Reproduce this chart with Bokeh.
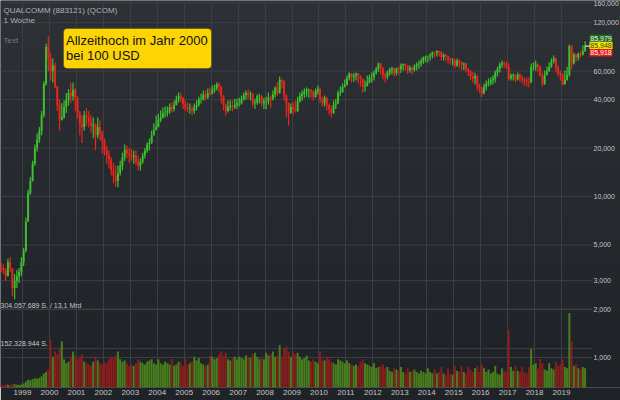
import math
from bokeh.plotting import figure
from bokeh.models import (Range1d, LinearScale, FixedTicker, Label, BoxAnnotation,
                          LogAxis, ColumnDataSource)
from bokeh.embed import file_html
from bokeh.resources import INLINE

# ---------------- data (monthly candles, USD) ----------------
first_year, first_month = 1998, 3          # first candle: March 1998
first_open = 3.7

high = [
    3.9, 3.8, 3.6, 4.1, 4.2, 3.6, 3.3, 3.5, 3.6, 4.2,                       # 1998 Mar-Dec
    4.8, 7.4, 11.0, 13.2, 16.7, 21.0, 24.6, 27.0, 34.0, 52.0, 89.0, 99.0,   # 1999
    78.0, 72.0, 68.0, 49.0, 40.0, 38.0, 39.5, 44.0, 46.5, 51.0, 51.0, 47.0, # 2000
    42.0, 34.0, 32.0, 34.0, 35.3, 34.0, 32.0, 31.0, 28.5, 31.0, 29.7, 25.7, # 2001
    23.0, 20.7, 19.3, 17.5, 16.2, 15.6, 15.6, 16.7, 18.7, 21.0, 20.7, 20.0, # 2002
    19.7, 19.3, 19.3, 18.0, 17.2, 18.7, 20.0, 21.7, 22.9, 25.7, 28.5, 31.9, # 2003
    32.6, 34.2, 35.6, 36.2, 36.2, 37.8, 38.3, 39.5, 42.4, 44.3, 44.3, 41.5, # 2004
    39.5, 38.3, 37.8, 36.8, 37.8, 39.5, 41.6, 43.5, 45.6, 45.6, 46.9, 47.5, # 2005
    48.9, 49.7, 51.2, 51.2, 48.5, 42.5, 37.8, 39.5, 39.5, 39.5, 40.5, 40.5, # 2006
    41.0, 42.4, 44.3, 45.6, 46.3, 45.0, 44.0, 40.5, 43.0, 43.5, 42.5, 41.0, # 2007
    41.6, 44.3, 42.4, 45.6, 48.2, 51.2, 55.6, 54.0, 52.5, 43.0, 38.5, 37.8, # 2008
    38.3, 39.5, 41.6, 44.3, 45.6, 46.9, 47.5, 46.9, 46.3, 45.5, 46.9, 48.9, # 2009
    47.5, 41.6, 42.4, 41.5, 37.8, 36.8, 39.5, 40.5, 45.6, 48.2, 50.3, 53.3, # 2010
    56.5, 59.0, 58.2, 58.2, 59.0, 58.5, 56.5, 54.5, 52.5, 56.5, 57.3, 59.0, # 2011
    60.6, 64.0, 68.0, 67.5, 63.5, 59.0, 60.6, 63.0, 64.0, 63.0, 63.0, 64.0, # 2012
    67.0, 67.0, 67.0, 65.5, 65.0, 64.0, 66.0, 68.0, 70.0, 72.0, 74.0, 75.0, # 2013
    75.0, 77.5, 79.5, 79.5, 80.8, 80.8, 80.0, 77.5, 76.2, 75.0, 73.0, 72.0, # 2014
    72.0, 72.0, 71.0, 69.0, 68.0, 67.5, 63.0, 61.0, 59.5, 58.8, 57.0, 50.3, # 2015
    48.2, 50.3, 52.5, 54.0, 55.0, 56.5, 60.6, 64.0, 68.0, 70.0, 69.0, 69.0, # 2016
    67.0, 58.0, 58.0, 57.3, 59.0, 58.0, 56.5, 54.8, 54.8, 54.8, 67.0, 68.0, # 2017
    70.0, 67.0, 65.0, 59.0, 60.6, 64.0, 68.0, 72.0, 75.0, 73.0, 65.0, 60.6, # 2018
    58.2, 60.6, 64.0, 88.0, 87.0, 78.0, 77.0, 78.0, 80.8, 87.0, 92.0,       # 2019 Jan-Nov
]
low = [
    3.4, 3.3, 3.0, 3.2, 3.4, 2.4, 2.3, 2.7, 2.9, 3.2,
    3.7, 4.5, 7.0, 10.2, 12.4, 15.5, 19.0, 21.5, 24.0, 31.0, 49.0, 60.0,
    52.5, 51.0, 47.0, 34.0, 25.7, 29.7, 30.5, 33.0, 36.8, 38.0, 39.5, 34.0,
    30.5, 24.0, 21.5, 25.7, 27.6, 26.8, 25.0, 23.0, 19.3, 23.0, 22.3, 18.5,
    18.0, 16.0, 14.9, 13.5, 12.1, 11.5, 11.4, 13.5, 14.5, 16.7, 17.2, 16.2,
    16.7, 16.0, 15.6, 14.5, 14.5, 16.0, 17.2, 18.7, 19.3, 21.3, 23.9, 25.7,
    26.8, 28.9, 30.5, 31.0, 31.4, 32.7, 33.2, 33.7, 36.8, 38.3, 38.3, 35.0,
    34.2, 33.2, 32.7, 31.9, 32.7, 34.2, 36.2, 37.8, 39.5, 39.5, 40.5, 42.4,
    43.0, 44.1, 45.6, 44.1, 37.8, 34.2, 31.9, 33.2, 34.2, 33.7, 35.0, 35.0,
    36.2, 37.2, 39.5, 40.0, 40.5, 39.5, 36.2, 35.0, 37.2, 37.8, 36.2, 35.0,
    35.0, 37.2, 35.6, 39.5, 41.2, 42.4, 43.5, 46.9, 39.5, 31.0, 27.6, 32.7,
    32.2, 33.2, 33.5, 38.3, 39.5, 41.0, 41.6, 41.0, 41.0, 39.5, 41.0, 43.0,
    38.3, 36.2, 36.2, 34.2, 32.2, 31.0, 32.5, 35.0, 37.5, 42.0, 44.1, 47.5,
    48.9, 52.5, 51.0, 51.7, 52.5, 50.3, 48.2, 44.1, 44.7, 48.2, 50.3, 51.0,
    52.5, 57.3, 59.5, 57.3, 53.3, 51.0, 53.3, 56.5, 57.3, 55.7, 56.5, 57.3,
    58.8, 60.6, 60.6, 57.8, 58.8, 57.3, 59.8, 60.6, 62.2, 64.0, 66.8, 68.0,
    68.0, 70.0, 72.0, 73.0, 74.0, 74.0, 70.0, 70.0, 69.0, 67.0, 66.0, 65.0,
    63.0, 64.0, 63.0, 61.0, 61.0, 59.0, 56.0, 52.5, 51.0, 49.7, 45.6, 44.0,
    41.3, 43.0, 45.6, 48.2, 48.9, 49.7, 51.0, 55.7, 59.0, 63.0, 63.0, 62.0,
    52.5, 52.5, 52.5, 51.0, 52.5, 51.7, 50.3, 48.9, 48.2, 47.5, 50.5, 60.6,
    60.6, 59.0, 55.7, 48.2, 49.5, 56.5, 59.8, 63.0, 67.0, 59.0, 55.7, 52.5,
    48.9, 49.5, 52.5, 55.5, 62.0, 66.0, 69.0, 70.0, 73.0, 75.0, 79.0,
]
close = [
    3.6, 3.5, 3.2, 3.9, 3.6, 2.7, 3.0, 3.2, 3.4, 3.9,
    4.6, 7.0, 10.5, 12.5, 16.0, 20.0, 22.5, 25.5, 32.0, 50.0, 85.0, 72.0,
    60.0, 65.0, 48.0, 37.0, 30.0, 31.0, 36.0, 40.0, 44.0, 42.0, 46.0, 41.0,
    33.0, 28.0, 27.0, 32.0, 31.0, 29.0, 27.5, 28.0, 24.0, 27.0, 25.0, 22.0,
    19.5, 18.0, 17.0, 14.5, 13.5, 12.5, 14.0, 15.5, 17.5, 19.5, 18.5, 18.0,
    17.5, 18.0, 16.5, 15.5, 16.5, 18.0, 19.3, 21.0, 21.5, 24.0, 26.0, 27.0,
    30.0, 31.0, 33.0, 33.0, 34.0, 36.0, 35.0, 37.0, 40.0, 42.0, 41.0, 37.5,
    36.0, 35.0, 35.0, 34.0, 36.0, 37.0, 40.0, 40.0, 43.0, 41.0, 44.0, 43.5,
    46.0, 47.0, 50.0, 48.0, 42.0, 37.0, 34.0, 36.0, 36.5, 36.0, 37.0, 38.0,
    38.0, 40.0, 42.5, 44.0, 43.0, 43.5, 38.0, 38.5, 42.0, 42.0, 38.0, 39.0,
    39.0, 41.0, 40.5, 43.0, 47.5, 44.0, 53.0, 52.0, 42.5, 38.0, 33.0, 36.0,
    35.0, 34.0, 39.0, 42.0, 43.5, 45.0, 46.0, 46.0, 45.0, 41.5, 45.0, 46.5,
    40.0, 38.0, 41.0, 37.0, 35.0, 33.0, 37.0, 38.0, 44.0, 44.5, 48.0, 49.5,
    54.0, 58.0, 55.0, 56.5, 58.0, 56.0, 54.0, 48.0, 48.5, 51.0, 55.0, 55.0,
    58.5, 62.0, 67.0, 63.0, 57.0, 55.5, 59.0, 61.5, 62.5, 58.5, 62.5, 62.0,
    65.0, 66.5, 65.0, 61.0, 63.0, 61.0, 64.5, 66.0, 67.0, 69.5, 73.5, 74.0,
    74.0, 75.5, 78.5, 78.0, 80.0, 79.0, 73.5, 76.0, 74.5, 72.0, 70.0, 70.0,
    65.0, 70.0, 68.0, 66.0, 67.0, 62.0, 60.0, 56.0, 54.0, 56.0, 48.0, 47.0,
    44.0, 48.0, 50.0, 51.0, 53.0, 54.0, 59.0, 62.0, 66.0, 67.0, 66.0, 64.0,
    54.0, 56.5, 57.0, 53.5, 57.0, 55.0, 53.0, 52.0, 51.5, 51.0, 64.0, 64.0,
    66.0, 64.0, 56.0, 50.0, 57.0, 60.0, 64.0, 69.0, 72.0, 63.0, 58.0, 57.0,
    50.0, 53.0, 57.0, 86.0, 67.0, 76.0, 73.0, 77.0, 76.0, 80.0, 85.948,
]
# typical weekly volume in each month, millions of shares
volume_m = [
    10, 9, 12, 11, 9, 14, 13, 11, 10, 12,
    16, 22, 30, 28, 32, 36, 34, 38, 44, 55, 60, 70,
    185, 120, 140, 130, 150, 180, 110, 95, 100, 120, 140, 125,
    110, 120, 130, 100, 95, 90, 85, 100, 120, 105, 95, 90,
    100, 95, 110, 120, 115, 125, 140, 110, 100, 105, 95, 85,
    90, 85, 95, 110, 100, 95, 90, 100, 105, 110, 95, 90,
    110, 95, 90, 100, 95, 90, 110, 85, 90, 100, 95, 85,
    110, 90, 95, 100, 120, 105, 115, 95, 90, 85, 90, 125,
    120, 110, 115, 130, 140, 125, 135, 110, 105, 115, 120, 110,
    120, 115, 110, 125, 120, 115, 130, 135, 120, 110, 115, 110,
    135, 125, 130, 140, 120, 125, 165, 120, 150, 160, 140, 120,
    140, 130, 135, 120, 110, 115, 125, 105, 100, 110, 100, 95,
    140, 110, 105, 120, 110, 100, 95, 90, 110, 105, 100, 95,
    105, 95, 90, 85, 90, 85, 100, 110, 95, 90, 85, 80,
    95, 75, 80, 85, 90, 75, 80, 65, 60, 75, 70, 65,
    80, 60, 55, 75, 60, 65, 70, 60, 55, 65, 60, 55,
    75, 60, 55, 70, 55, 60, 80, 55, 50, 75, 55, 50,
    85, 65, 60, 85, 60, 55, 80, 70, 60, 75, 85, 60,
    90, 75, 60, 70, 55, 60, 85, 55, 50, 75, 65, 60,
    225, 80, 65, 85, 65, 60, 80, 60, 55, 80, 150, 90,
    95, 75, 110, 95, 70, 65, 95, 75, 70, 100, 85, 90,
    110, 80, 75, 290, 180, 85, 90, 75, 70, 80, 75,
]
assert len(high) == len(low) == len(close) == len(volume_m)

year_ticks = [1999, 2000, 2001, 2002, 2003, 2004, 2005, 2006, 2007, 2008, 2009,
              2010, 2011, 2012, 2013, 2014, 2015, 2016, 2017, 2018, 2019]
year_labels = ["1999", "2000", "2001", "2002", "2003", "2004", "2005", "2006", "2007",
               "2008", "2009", "2010", "2011", "2012", "2013", "2014", "2015", "2016",
               "2017", "2018", "2019"]
price_ticks = [1, 2, 3, 5, 10, 20, 40, 60, 120, 160]
price_tick_labels = ["1,000", "2,000", "3,000", "5,000", "10,000", "20,000", "40,000",
                     "60,000", "120,000", "160,000"]
quote_values = [85.979, 85.948, 85.918]
quote_labels = ["85,979", "85,948", "85,918"]
volume_marks = [304057689, 152328944]
volume_mark_labels = ["304.057.689 S. / 13,1 Mrd", "152.328.944 S."]
title_lines = ["QUALCOMM (883121) (QCOM)", "1 Woche"]
note_lines = ["Allzeithoch im Jahr 2000", "bei 100 USD"]

# ---------------- layout / styling ----------------
FONT = "Liberation Sans"
BORDER = "#1f2226"
GRID = "#3b3f45"
UP = "#3cc12e"
DOWN = "#e8261c"
VOL_UP = "#4c8a1c"
VOL_DOWN = "#921d1d"
GRADIENT_TOP = (45, 48, 53)
GRADIENT_BOTTOM = (31, 34, 38)

W, H = 620, 400
FRAME_W, FRAME_H = 620, 387
PLOT_RIGHT_PX = 590          # right end of the drawing area, price labels beyond
PX_PER_YEAR = 26.95
X0 = 1999 - 22 / PX_PER_YEAR
X1 = X0 + FRAME_W / PX_PER_YEAR
PX_PER_DECADE, Y_TEN = 161.0, 196.0   # pixel row of the 10 USD line


def py_to_v(py):
    return 10 ** (1 + (Y_TEN - py) / PX_PER_DECADE)


def px_to_t(px):
    return X0 + px / PX_PER_YEAR


V_TOP, V_BOT = py_to_v(0), py_to_v(FRAME_H)
VOL_TOP = volume_marks[0] * FRAME_H / 78.0

n = len(close)
t = [first_year + (first_month - 1 + k) / 12 + 1 / 24 for k in range(n)]
opens = [first_open] + close[:-1]
up = [c >= o for o, c in zip(opens, close)]
src = ColumnDataSource(dict(
    t=t, o=opens, h=high, l=low, c=close,
    top=[max(o, c) for o, c in zip(opens, close)],
    bot=[min(o, c) for o, c in zip(opens, close)],
    color=[UP if u else DOWN for u in up],
    vol=[v * 1e6 for v in volume_m],
    vcolor=[VOL_UP if u else VOL_DOWN for u in up],
))

p = figure(width=W, height=H,
           x_range=Range1d(X0, X1), y_range=Range1d(V_BOT, V_TOP),
           y_axis_type="log", y_axis_location=None,
           output_backend="svg", toolbar_location=None,
           min_border_left=0, min_border_top=0, min_border_right=0, min_border_bottom=13,
           background_fill_color=BORDER, border_fill_color=BORDER, outline_line_color=None)
p.extra_y_ranges = {"vol": Range1d(0, VOL_TOP)}
p.extra_y_scales = {"vol": LinearScale()}

# background gradient (bands drawn below everything)
N_BANDS = 16
for i in range(N_BANDS):
    f = i / (N_BANDS - 1)
    rgb = tuple(int(round(a + (b - a) * f)) for a, b in zip(GRADIENT_TOP, GRADIENT_BOTTOM))
    p.add_layout(BoxAnnotation(top=py_to_v(FRAME_H * i / N_BANDS),
                               bottom=py_to_v(FRAME_H * (i + 1) / N_BANDS),
                               fill_color="#%02x%02x%02x" % rgb, fill_alpha=1.0,
                               line_color=None, level="image"))

# x axis (years)
p.xaxis.ticker = FixedTicker(ticks=year_ticks)
p.xaxis.major_label_overrides = dict(zip(year_ticks, year_labels))
p.xgrid.grid_line_color = GRID
p.ygrid.visible = False

# price axis, drawn at the right end of the drawing area
price_axis = LogAxis(ticker=FixedTicker(ticks=price_ticks),
                     major_label_overrides=dict(zip(price_ticks, price_tick_labels)),
                     fixed_location=px_to_t(PLOT_RIGHT_PX))
p.add_layout(price_axis, "right")

for ax, size in ((p.xaxis[0], "8px"), (price_axis, "7px")):
    ax.axis_line_color = None
    ax.major_tick_line_color = None
    ax.minor_tick_line_color = None
    ax.major_tick_out = 0
    ax.major_tick_in = 0
    ax.minor_tick_out = 0
    ax.minor_tick_in = 0
    ax.major_label_text_color = "#c4c7ca"
    ax.major_label_text_font = FONT
    ax.major_label_text_font_size = size
p.xaxis.major_label_standoff = 2
price_axis.major_label_standoff = 3

# horizontal grid lines (price ticks and volume marks), ending at the label column
grid_end = px_to_t(PLOT_RIGHT_PX + 2)
p.segment(x0=X0, x1=grid_end, y0=price_ticks, y1=price_ticks, line_color=GRID,
          line_width=1)
p.segment(x0=X0, x1=grid_end, y0=volume_marks, y1=volume_marks, line_color=GRID,
          line_width=1, y_range_name="vol")

# volume bars
p.vbar(x="t", width=0.9 / 12, top="vol", bottom=0, y_range_name="vol",
       fill_color="vcolor", line_color=None, fill_alpha=0.9, source=src)

# candles
p.segment(x0="t", y0="l", x1="t", y1="h", line_color="color", line_width=1.2, source=src)
p.vbar(x="t", width=0.85 / 12, top="top", bottom="bot", fill_color="color",
       line_color=None, source=src)

# last price marker
p.segment(x0=[t[-1]], x1=[px_to_t(PLOT_RIGHT_PX)], y0=[close[-1]], y1=[close[-1]],
          line_color="white", line_width=1)

# texts top-left
for txt, py, col in ((title_lines[0], 10, "#aeb2b6"), (title_lines[1], 20, "#aeb2b6"),
                     ("Text", 40, "#767a80")):
    p.add_layout(Label(x=3, x_units="screen", y=py_to_v(py), text=txt,
                       text_baseline="middle", text_font=FONT, text_font_size="8px",
                       text_color=col))

# volume labels
for vm, txt in zip(volume_marks, volume_mark_labels):
    p.add_layout(Label(x=0, x_units="screen", y=vm, y_range_name="vol", text=txt,
                       text_baseline="bottom", y_offset=1, text_font=FONT,
                       text_font_size="7px", text_color="#c4c7ca"))

# note box
p.add_layout(BoxAnnotation(left=px_to_t(63), right=px_to_t(211),
                           top=py_to_v(28), bottom=py_to_v(68),
                           fill_color="#ffd400", fill_alpha=1.0,
                           line_color="#1b1b1b", line_width=1, border_radius=4))
for txt, py in zip(note_lines, (39.5, 54.5)):
    p.add_layout(Label(x=px_to_t(65.5), y=py_to_v(py), text=txt,
                       text_baseline="alphabetic", text_font=FONT,
                       text_font_size="13px", text_color="#111111"))

# quote boxes on the right
box_styles = [("#1d6622", "#f0fff0"), ("#eee600", "#404000"), ("#e01c1c", "#ffffff")]
box_rows = [(34.0, 41.3), (41.3, 48.6), (48.6, 56.0)]
for (val, txt, (bg, fg), (y_top, y_bot)) in zip(quote_values, quote_labels, box_styles,
                                                 box_rows):
    p.add_layout(BoxAnnotation(left=px_to_t(PLOT_RIGHT_PX - 1),
                               right=px_to_t(PLOT_RIGHT_PX + 22),
                               top=py_to_v(y_top), bottom=py_to_v(y_bot),
                               fill_color=bg, fill_alpha=1.0, line_color=None))
    p.add_layout(Label(x=px_to_t(PLOT_RIGHT_PX + 10.5), y=py_to_v((y_top + y_bot) / 2),
                       text=txt, text_baseline="middle", text_align="center",
                       text_font=FONT, text_font_size="7px", text_color=fg))

open("out.html", "w").write(file_html(p, INLINE))
